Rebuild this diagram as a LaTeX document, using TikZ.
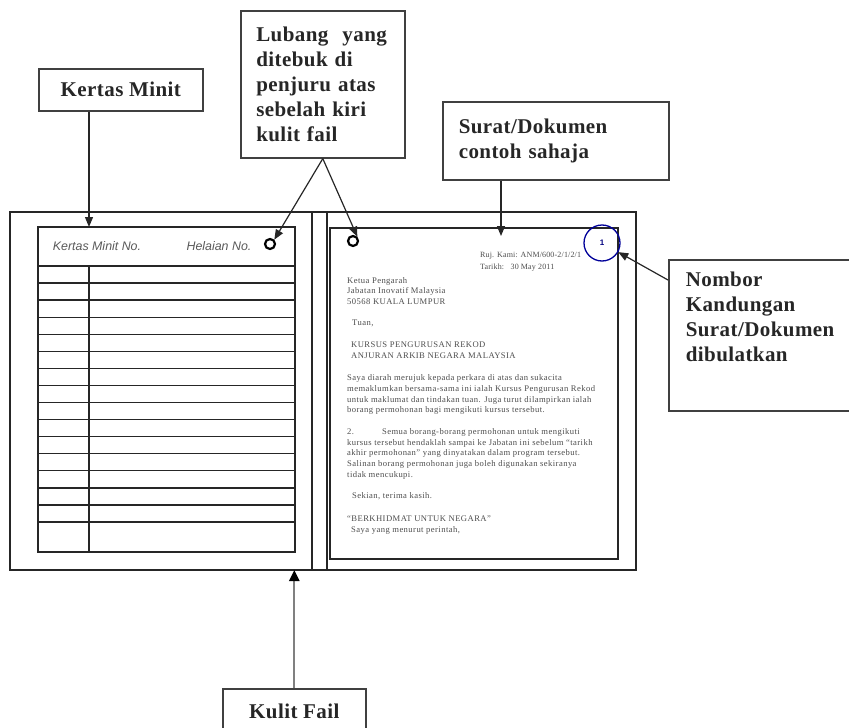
\documentclass[tikz,border=0pt]{standalone}
\usepackage{fontspec}
\setmainfont{Liberation Serif}
\setsansfont{Liberation Sans}
\usetikzlibrary{arrows.meta, positioning, calc}

\begin{document}
\begin{tikzpicture}[x=1pt, y=-1pt,
	lbl/.style={draw=black!75, line width=1.6pt, inner sep=0pt, anchor=north west, font=\fontsize{21}{25}\selectfont\bfseries\addfontfeature{LetterSpace=2}, text=black!85},
	sheet/.style={draw=black!85, line width=1.3pt},
	ptr/.style={draw=black!85, line width=1.2pt, -{Triangle[length=10pt, width=8pt]}},
	hole/.style={circle, draw=black, line width=2.2pt, inner sep=0pt, minimum size=10pt},
	hdr/.style={font=\sffamily\itshape\fontsize{12.4}{14}\selectfont, text=black!65},
	surat/.style={font=\fontsize{8.6}{10.7}\selectfont\addfontfeature{LetterSpace=5}, text=black!70, align=left, inner sep=0pt, anchor=north west}]
			
			\useasboundingbox (0,0) rectangle (849,728);
			
			% kulit fail
			\draw[sheet] (10,212) rectangle (636,570);
			\draw[sheet] (312,212) -- (312,570);
			\draw[sheet] (327,212) -- (327,570);
			\coordinate (fbot) at (10,570);
			
			% kertas minit
			\draw[sheet] (38,227) rectangle (295,552);
			\foreach \i in {0,...,15}
			\draw[sheet] (38,266+\i*17.07) -- (295,266+\i*17.07);
			\draw[sheet] (89,266) -- (89,552);
			\coordinate (minittop) at (89,227);
			\node[hdr] (minitno) at (97,246) {Kertas Minit No.};
			\node[hdr] (helaian) at (219,246) {Helaian No.};
			\node[hole] (holeL) at (270,244) {};
			
			% surat
			\draw[sheet] (330,228) rectangle (618,559);
			\node[hole] (holeR) at (353,241) {};
			\coordinate (surattop) at (501,236);
			\node[circle, draw=blue!60!black, line width=1.3pt, minimum size=36pt, inner sep=0pt, font=\sffamily\bfseries\fontsize{8}{9}\selectfont, text=blue!50!black] (numcirc) at (602,243) {1};
			\node[surat, font=\fontsize{8}{11.5}\selectfont\addfontfeature{LetterSpace=2}] (ruj) at (480,252) {Ruj. Kami: ANM/600-2/1/2/1\\Tarikh:\ \ \ 30 May 2011};
			\node[surat] (isi) at (347,277) {Ketua Pengarah\\
				Jabatan Inovatif Malaysia\\
				50568 KUALA LUMPUR\\[10.7pt]
				\hspace{5pt}Tuan,\\[10.7pt]
				\hspace{4pt}KURSUS PENGURUSAN REKOD\\
				\hspace{4pt}ANJURAN ARKIB NEGARA MALAYSIA\\[12pt]
				Saya diarah merujuk kepada perkara di atas dan sukacita\\
				memaklumkan bersama-sama ini ialah Kursus Pengurusan Rekod\\
				untuk maklumat dan tindakan tuan. Juga turut dilampirkan ialah\\
				borang permohonan bagi mengikuti kursus tersebut.\\[11pt]
				2.\hspace{28pt}Semua borang-borang permohonan untuk mengikuti\\
				kursus tersebut hendaklah sampai ke Jabatan ini sebelum ``tarikh\\
				akhir permohonan'' yang dinyatakan dalam program tersebut.\\
				Salinan borang permohonan juga boleh digunakan sekiranya\\
				tidak mencukupi.\\[10.7pt]
				\hspace{5pt}Sekian, terima kasih.\\[12pt]
				``BERKHIDMAT UNTUK NEGARA''\\
				\hspace{4pt}Saya yang menurut perintah,};
			
			% label
			\node[lbl, minimum width=164pt, minimum height=147pt, text width=133pt, align=left] (lubang) at (240,10) {Lubang\ \ yang\\ditebuk di\\penjuru atas\\sebelah kiri\\kulit fail};
			\node[lbl, minimum width=164pt, minimum height=42pt] (kminit) at (38,68) {Kertas Minit};
			\node[lbl, minimum width=226pt, minimum height=78pt, text width=194pt, align=left] (suratlbl) at (442,101) {Surat/Dokumen\\contoh sahaja};
			\node[lbl, inner xsep=17pt] (nombor) at (668,259) {\parbox[c][151pt][t]{170pt}{\raggedright\vspace*{12pt}Nombor\\Kandungan\\Surat/Dokumen\\dibulatkan}};
			\node[lbl, minimum width=143pt, minimum height=46pt] (kulit) at (222,688) {Kulit Fail};
			
			\draw[ptr] (kminit.south -| minittop) -- (minittop);
			\draw[ptr] (lubang.south) -- (holeL.north east);
			\draw[ptr] (lubang.south) -- (holeR.north east);
			\draw[ptr] (suratlbl.south -| surattop) -- (surattop);
			\draw[ptr] ($(nombor.north west)+(0,21)$) -- (numcirc);
			\draw[draw=black!50, line width=2.2pt, -{Triangle[length=11pt, width=10pt, color=black]}] (kulit.north) -- (kulit.north |- fbot);
\end{tikzpicture}
\end{document}
